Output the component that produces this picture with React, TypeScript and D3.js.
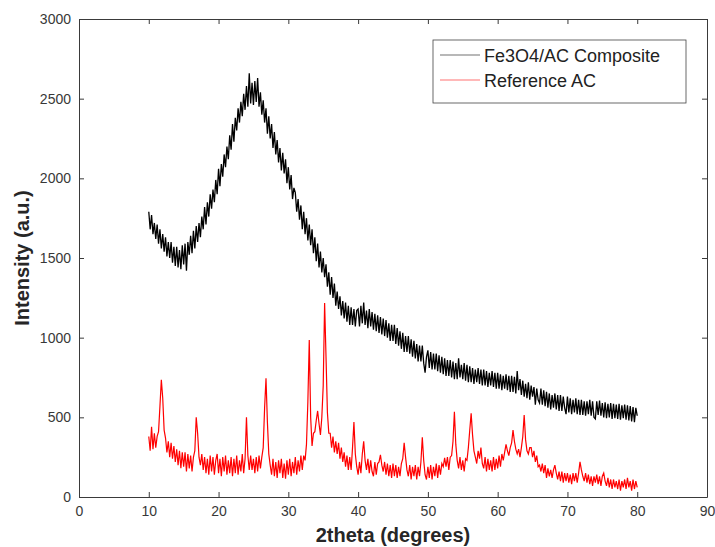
import { useEffect, useRef } from 'react';
import * as d3 from 'd3';

// 2theta sampling: 10..80 deg, 0.2 deg step
const thetaStart = 10;
const thetaStep = 0.2;

// Fe3O4/AC composite intensities, one row per degree (x.0, x.2, x.4, x.6, x.8)
const composite: number[] = [
  1790, 1680, 1770, 1650, 1720,
  1620, 1710, 1590, 1680, 1560,
  1650, 1540, 1630, 1510, 1600,
  1500, 1600, 1470, 1570, 1450,
  1570, 1440, 1550, 1430, 1580,
  1460, 1590, 1420, 1600, 1520,
  1640, 1530, 1670, 1560, 1700,
  1600, 1720, 1630, 1760, 1680,
  1820, 1710, 1850, 1760, 1900,
  1810, 1930, 1850, 1990, 1900,
  2060, 1950, 2090, 2010, 2150,
  2070, 2200, 2120, 2270, 2180,
  2340, 2230, 2380, 2300, 2440,
  2350, 2480, 2390, 2530, 2430,
  2580, 2450, 2660, 2470, 2600,
  2460, 2610, 2480, 2630, 2450,
  2540, 2400, 2490, 2350, 2440,
  2280, 2390, 2250, 2340, 2190,
  2290, 2150, 2240, 2100, 2190,
  2050, 2160, 2030, 2120, 1970,
  2070, 1930, 2020, 1870, 1940,
  1910, 1790, 1870, 1740, 1830,
  1680, 1790, 1650, 1750, 1610,
  1710, 1580, 1680, 1530, 1630,
  1480, 1590, 1440, 1540, 1410,
  1500, 1380, 1460, 1320, 1410,
  1270, 1380, 1250, 1340, 1200,
  1290, 1180, 1260, 1140, 1230,
  1120, 1220, 1100, 1200, 1080,
  1190, 1080, 1180, 1070, 1170,
  1180, 1070, 1200, 1090, 1220,
  1080, 1170, 1060, 1180, 1070,
  1160, 1050, 1150, 1040, 1140,
  1030, 1130, 1020, 1120, 1010,
  1110, 1000, 1090, 980, 1080,
  980, 1080, 960, 1060, 950,
  1040, 930, 1030, 910, 1010,
  910, 1010, 900, 990, 880,
  980, 870, 960, 850, 950,
  850, 950, 840, 780, 880,
  920, 810, 910, 800, 900,
  800, 900, 790, 890, 780,
  880, 770, 870, 760, 860,
  760, 860, 750, 850, 740,
  840, 740, 870, 750, 830,
  740, 840, 730, 830, 720,
  820, 720, 810, 710, 800,
  720, 810, 710, 800, 700,
  800, 700, 790, 690, 780,
  700, 790, 690, 780, 680,
  780, 680, 770, 670, 760,
  680, 770, 670, 760, 660,
  760, 660, 755, 650, 790,
  670, 740, 640, 730, 630,
  710, 620, 720, 610, 700,
  630, 690, 580, 680, 610,
  590, 680, 580, 670, 570,
  660, 560, 650, 550, 640,
  560, 650, 550, 640, 540,
  640, 540, 630, 560, 520,
  630, 530, 620, 520, 610,
  530, 620, 520, 610, 515,
  610, 515, 600, 510, 600,
  520, 610, 510, 600, 500,
  490, 600, 515, 605, 510,
  590, 500, 595, 495, 585,
  500, 590, 490, 585, 495,
  580, 490, 585, 485, 575,
  495, 580, 485, 575, 480,
  570, 475, 565, 470, 560,
  510,
];

// Reference AC intensities, same grid
const reference: number[] = [
  380, 290, 440, 300, 400,
  310, 380, 410, 570, 735,
  620, 420, 370, 280, 350,
  250, 340, 240, 320, 220,
  300, 200, 290, 180, 280,
  190, 280, 160, 270, 180,
  260, 160, 250, 290, 500,
  400, 250, 200, 270, 170,
  250, 150, 240, 140, 260,
  160, 250, 140, 230, 270,
  150, 240, 130, 250, 160,
  260, 140, 230, 150, 250,
  130, 240, 150, 260, 140,
  230, 160, 270, 150, 240,
  500, 260, 170, 260, 170,
  240, 150, 250, 160, 260,
  180, 250, 310, 560, 745,
  470, 270, 200, 140, 240,
  130, 220, 120, 230, 150,
  240, 120, 210, 115, 230,
  140, 240, 130, 220, 150,
  250, 140, 230, 160, 260,
  170, 260, 230, 330, 600,
  985, 500, 320, 400, 410,
  480, 540, 460, 390, 500,
  700, 1218, 880, 530, 400,
  400, 310, 380, 280, 350,
  270, 340, 240, 310, 220,
  280, 190, 260, 170, 250,
  170, 310, 470, 270, 190,
  140, 220, 150, 270, 350,
  230, 170, 240, 150, 230,
  160, 130, 220, 140, 210,
  220, 265, 200, 160, 220,
  140, 210, 130, 200, 120,
  210, 130, 200, 120, 190,
  130, 210, 240, 340, 250,
  170, 130, 200, 110, 190,
  130, 200, 110, 190, 130,
  220, 375, 230, 140, 110,
  190, 120, 200, 110, 190,
  130, 210, 120, 200, 140,
  210, 190, 245, 190, 250,
  170, 250, 260, 350, 535,
  330, 230, 180, 250, 170,
  230, 160, 240, 230, 310,
  420, 525, 390, 290, 250,
  210, 290, 240, 310, 210,
  180, 250, 160, 240, 170,
  230, 160, 250, 170, 240,
  180, 260, 190, 270, 230,
  280, 330, 290, 260, 310,
  340, 420, 350, 300, 270,
  300, 250, 310, 380, 515,
  360, 290, 270, 310, 310,
  250, 290, 220, 260, 190,
  200, 160, 210, 150, 200,
  120, 180, 130, 170, 120,
  170, 200, 150, 110, 160,
  100, 160, 90, 150, 100,
  150, 90, 140, 80, 150,
  100, 150, 90, 150, 220,
  170, 130, 100, 150, 90,
  140, 80, 130, 70, 130,
  90, 140, 80, 130, 70,
  130, 150, 100, 70, 120,
  60, 110, 50, 110, 60,
  100, 50, 110, 40, 100,
  60, 110, 50, 120, 60,
  100, 40, 110, 50, 100,
  60,
];

const xTicks = [0, 10, 20, 30, 40, 50, 60, 70, 80, 90];
const yTicks = [0, 500, 1000, 1500, 2000, 2500, 3000];
const seriesNames = ['Fe3O4/AC Composite', 'Reference AC'];
const seriesColors = ['#000000', '#ff0000'];

const App = () => {
  const svgRef = useRef<SVGSVGElement>(null);

  useEffect(() => {
    document.body.style.margin = '0';
    const svg = d3.select(svgRef.current);
    svg.selectAll('*').remove();

    const margin = { top: 19, right: 8, bottom: 50, left: 79 };
    const outerWidth = 715;
    const outerHeight = 547;
    const width = outerWidth - margin.left - margin.right;
    const height = outerHeight - margin.top - margin.bottom;
    const font = 'Liberation Sans, Arial, Helvetica, sans-serif';
    const axisColor = '#3a3a3a';

    const x = d3.scaleLinear().domain([0, 90]).range([0, width]);
    const y = d3.scaleLinear().domain([0, 3000]).range([height, 0]);

    const g = svg.append('g').attr('transform', `translate(${margin.left},${margin.top})`);

    const line = d3.line<number>()
      .x((_, i) => x(thetaStart + i * thetaStep))
      .y(d => y(d));

    g.append('path').datum(composite)
      .attr('d', line).attr('fill', 'none')
      .attr('stroke', seriesColors[0]).attr('stroke-width', 1.3);
    g.append('path').datum(reference)
      .attr('d', line).attr('fill', 'none')
      .attr('stroke', seriesColors[1]).attr('stroke-width', 1.2);

    // axes, MATLAB style: box with inward ticks on all sides
    const styleAxis = (sel: any) => {
      sel.select('.domain').attr('stroke', axisColor);
      sel.selectAll('.tick line').attr('stroke', axisColor);
      sel.selectAll('text').attr('fill', '#383838').style('font-family', font).style('font-size', '14px');
    };

    g.append('g').attr('transform', `translate(0,${height})`)
      .call(d3.axisBottom(x).tickValues(xTicks).tickFormat(d3.format('d')).tickSizeInner(-5).tickSizeOuter(0).tickPadding(9))
      .call(styleAxis);
    g.append('g')
      .call(d3.axisLeft(y).tickValues(yTicks).tickFormat(d3.format('d')).tickSizeInner(-5).tickSizeOuter(0).tickPadding(8))
      .call(styleAxis);
    g.append('g')
      .call(d3.axisTop(x).tickValues(xTicks).tickSizeInner(-5).tickSizeOuter(0).tickFormat(() => ''))
      .call(styleAxis);
    g.append('g').attr('transform', `translate(${width},0)`)
      .call(d3.axisRight(y).tickValues(yTicks).tickSizeInner(-5).tickSizeOuter(0).tickFormat(() => ''))
      .call(styleAxis);

    // axis labels
    svg.append('text')
      .attr('x', margin.left + width / 2).attr('y', 542)
      .attr('text-anchor', 'middle')
      .style('font-family', font).style('font-size', '20px').style('font-weight', 'bold')
      .attr('fill', '#262626')
      .text('2theta (degrees)');
    svg.append('text')
      .attr('transform', `translate(29,${margin.top + height / 2}) rotate(-90)`)
      .attr('text-anchor', 'middle')
      .style('font-family', font).style('font-size', '20px').style('font-weight', 'bold')
      .attr('fill', '#262626')
      .text('Intensity (a.u.)');

    // legend
    const legend = svg.append('g').attr('transform', 'translate(433,40)');
    legend.append('rect')
      .attr('width', 253).attr('height', 63)
      .attr('fill', '#fff').attr('stroke', '#444').attr('stroke-width', 0.8);
    seriesNames.forEach((name, i) => {
      const row = legend.append('g').attr('transform', `translate(0,${15 + i * 25})`);
      row.append('line')
        .attr('x1', 7).attr('x2', 47).attr('y1', 0).attr('y2', 0)
        .attr('stroke', seriesColors[i]).attr('stroke-width', 0.8).attr('stroke-opacity', 0.7);
      row.append('text')
        .attr('x', 51).attr('y', 6.5)
        .style('font-family', font).style('font-size', '18px')
        .attr('fill', '#222')
        .text(name);
    });
  }, []);

  return <svg ref={svgRef} width={715} height={547} style={{ display: 'block' }}></svg>;
};

export default App;
